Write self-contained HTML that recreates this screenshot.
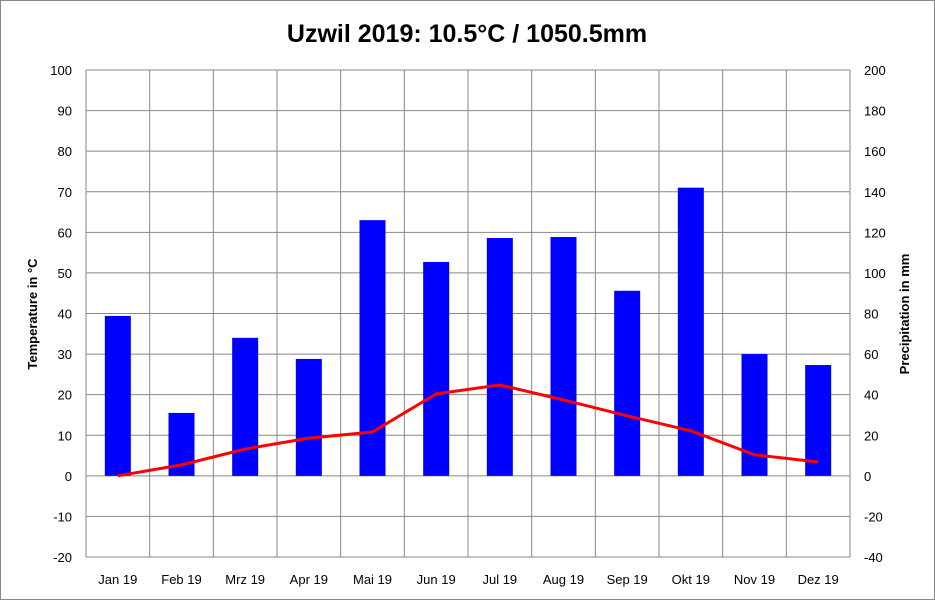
<!DOCTYPE html>
<html><head><meta charset="utf-8"><style>
body{margin:0;background:#fff;font-family:"Liberation Sans",sans-serif}
svg text{font-family:"Liberation Sans",sans-serif}
</style></head><body>
<svg id="c" width="935" height="600">
<rect x="0.5" y="0.5" width="934" height="599" fill="#fff" stroke="#888"/>
<text x="467" y="42" text-anchor="middle" font-size="25" font-weight="bold">Uzwil 2019: 10.5°C / 1050.5mm</text>
<g id="grid"></g><g id="bars"></g><g id="line"></g><g id="ticks"></g>
<text transform="translate(37,314) rotate(-90)" text-anchor="middle" font-size="13" font-weight="bold">Temperature in °C</text>
<text transform="translate(909,314) rotate(-90)" text-anchor="middle" font-size="13" font-weight="bold">Precipitation in mm</text>
</svg>
<script>
const months=["Jan 19","Feb 19","Mrz 19","Apr 19","Mai 19","Jun 19","Jul 19","Aug 19","Sep 19","Okt 19","Nov 19","Dez 19"];
const precip=[78.8,31,68,57.6,126,105.4,117.2,117.7,91.2,142,60,54.6];
const temp=[0,2.7,6.6,9.3,10.8,20.2,22.4,18.7,14.8,11.1,5.2,3.4];
const leftTicks=[-20,-10,0,10,20,30,40,50,60,70,80,90,100];
const rightTicks=[-40,-20,0,20,40,60,80,100,120,140,160,180,200];
const NS="http://www.w3.org/2000/svg";
const L=86,R=850,T=70,B=557;
const yT=v=>B-(v+20)/120*(B-T);
const yP=v=>B-(v+40)/240*(B-T);
const cw=(R-L)/months.length;
const xC=i=>L+cw*(i+0.5);
function mk(tag,attrs,parent,text){const e=document.createElementNS(NS,tag);for(const k in attrs)e.setAttribute(k,attrs[k]);if(text!==undefined)e.textContent=text;document.getElementById(parent).appendChild(e);return e;}
leftTicks.forEach((v,i)=>{
 const g=mk('line',{x1:L,x2:R,y1:yT(v),y2:yT(v),stroke:'#888','stroke-width':1},'grid');
 
 
 const t=mk('text',{x:L-14,y:yT(v)+5,'text-anchor':'end','font-size':13},'ticks',v);
 
 
 const r=rightTicks[i];
 const t2=mk('text',{x:R+14,y:yP(r)+5,'text-anchor':'start','font-size':13},'ticks',r);
 
 
});
for(let i=0;i<=months.length;i++){
 const g=mk('line',{x1:L+cw*i,x2:L+cw*i,y1:T,y2:B,stroke:'#888','stroke-width':1},'grid');
 
 
}
months.forEach((m,i)=>{
 const t=mk('text',{x:xC(i),y:B+27,'text-anchor':'middle','font-size':13},'ticks',m);
 
 
 const b=mk('rect',{x:xC(i)-13,y:yP(precip[i]),width:26,height:yP(0)-yP(precip[i]),fill:'#0000ff'},'bars');
 
 
});
const pts=temp.map((v,i)=>xC(i)+','+yT(v)).join(' ');
const pl=mk('polyline',{points:pts,fill:'none',stroke:'#ff0000','stroke-width':3,'stroke-linejoin':'round'},'line');


</script>
</body></html>
